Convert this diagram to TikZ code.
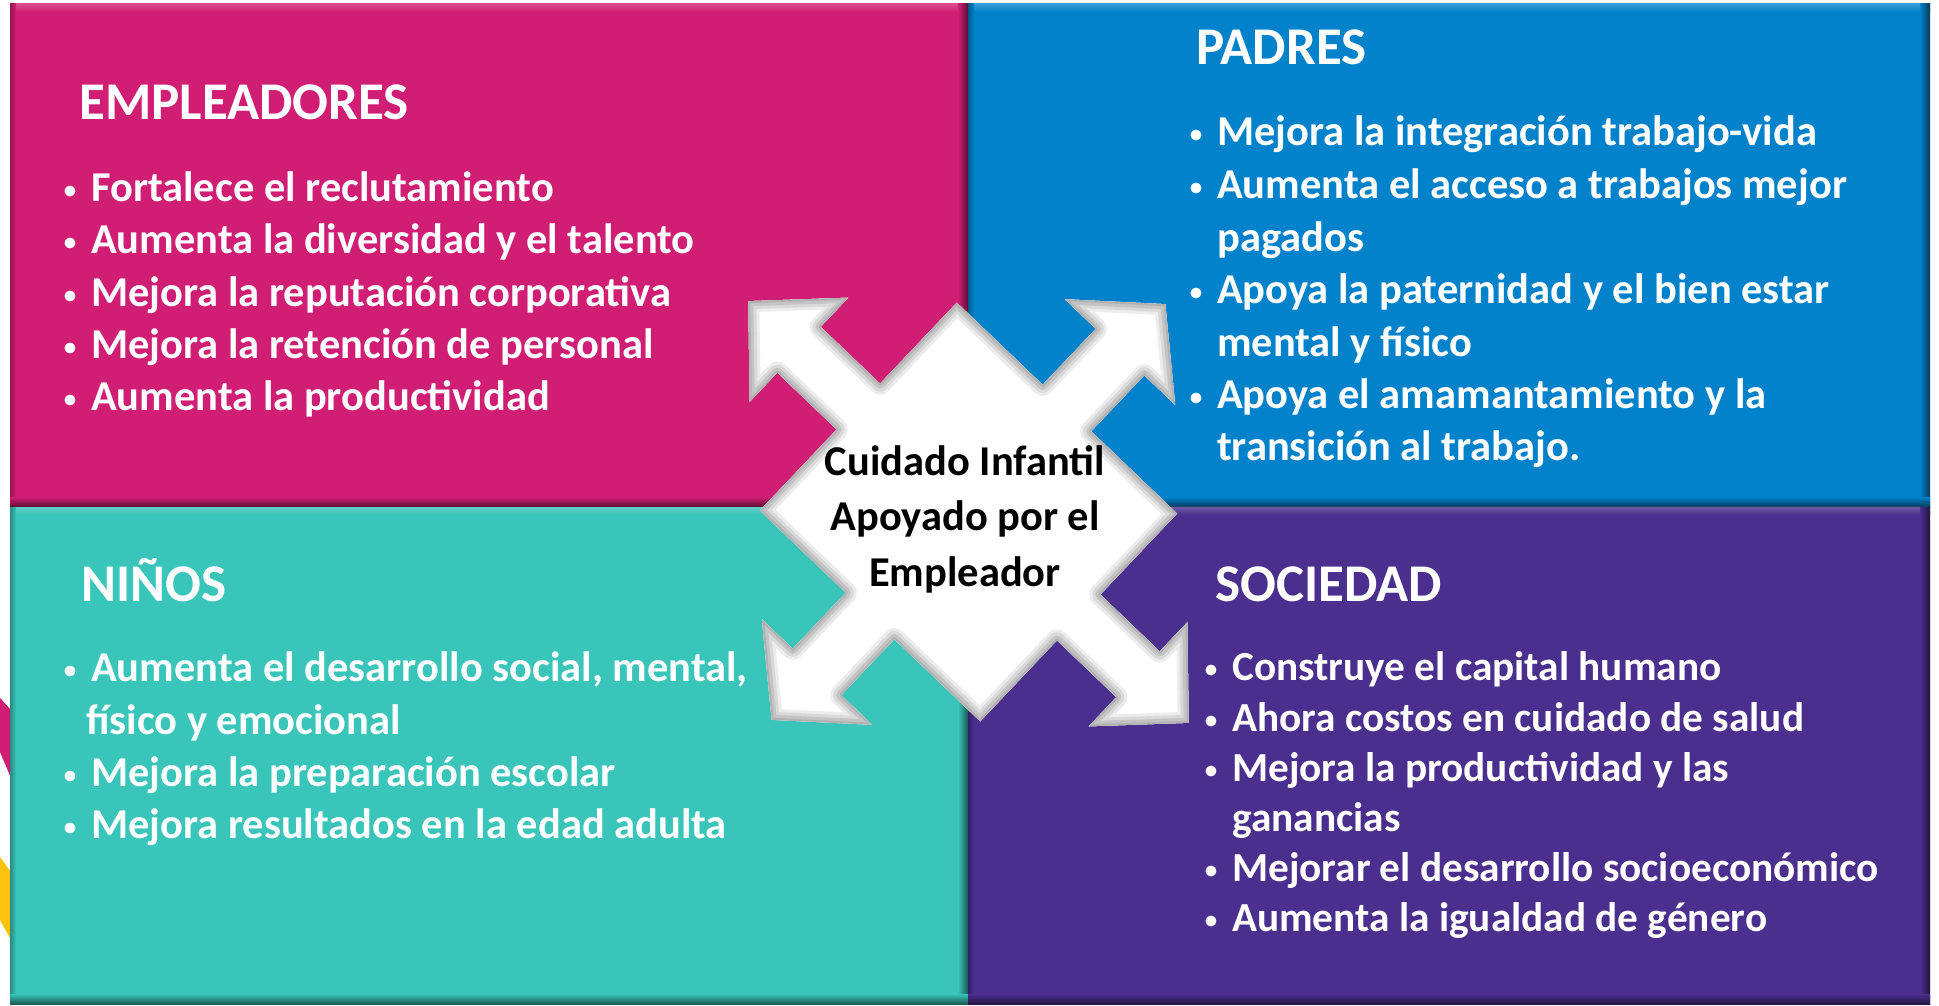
\documentclass[tikz,border=0pt]{standalone}
\usepackage{fontspec}
\setmainfont{Carlito}
\definecolor{pinkc}{RGB}{208,30,116}
\definecolor{bluec}{RGB}{2,130,202}
\definecolor{tealc}{RGB}{57,197,185}
\definecolor{purplec}{RGB}{74,47,142}
\definecolor{yellowc}{RGB}{255,194,14}
\newcommand\bul{\makebox[0pt][c]{\raisebox{3pt}{\fontsize{25}{25}\selectfont •}}\hspace{21pt}}
\newcommand\qpanel[5]{%
  \fill[#5] (#1,#2) rectangle (#3,#4);
  \shade[top color=#5!80!white, bottom color=#5] (#1,#2) rectangle (#3,{#2+8});
  \shade[left color=#5!70!black, right color=#5] (#1,#2) rectangle ({#1+6},#4);
  \shade[left color=#5, right color=#5!45!black] ({#3-10},#2) rectangle (#3,#4);
  \shade[top color=#5, bottom color=#5!45!black] (#1,{#4-10}) rectangle (#3,#4);
}
\begin{document}
\begin{tikzpicture}[x=1pt,y=-1pt,
  head/.style={font=\fontsize{53}{60}\selectfont\bfseries, text=white, anchor=base west, inner sep=0pt},
  item/.style={font=\fontsize{42.5}{52}\selectfont\bfseries, text=white, anchor=base west, inner sep=0pt},
  itemsm/.style={font=\fontsize{41.3}{50}\selectfont\bfseries, text=white, anchor=base west, inner sep=0pt},
  ctr/.style={font=\fontsize{42.5}{52}\selectfont\bfseries, text=black, anchor=base, inner sep=0pt},
  crossp/.style={insert path={(0.5,-0.11) -- (0.77,-0.11) -- (0.77,-0.25) -- (1,0) -- (0.77,0.25) -- (0.77,0.11) -- (0.5,0.11) -- (0.5,0.5)
    -- (0.11,0.5) -- (0.11,0.77) -- (0.25,0.77) -- (0,1) -- (-0.25,0.77) -- (-0.11,0.77) -- (-0.11,0.5) -- (-0.5,0.5)
    -- (-0.5,0.11) -- (-0.77,0.11) -- (-0.77,0.25) -- (-1,0) -- (-0.77,-0.25) -- (-0.77,-0.11) -- (-0.5,-0.11) -- (-0.5,-0.5)
    -- (-0.11,-0.5) -- (-0.11,-0.77) -- (-0.25,-0.77) -- (0,-1) -- (0.25,-0.77) -- (0.11,-0.77) -- (0.11,-0.5) -- (0.5,-0.5) -- cycle}}]
\fill[white] (0,0) rectangle (1939,1006);
\useasboundingbox (0,0) rectangle (1939,1006);
% side stripes
\fill[pinkc] (0,698) -- (11,710) -- (11,778) -- (0,752) -- cycle;
\fill[yellowc] (0,857) -- (11,872) -- (11,940) -- (0,920) -- cycle;
% panels
\qpanel{10}{4}{968}{507}{pinkc}
\qpanel{968}{4}{1930}{507}{bluec}
\qpanel{10}{507}{968}{1004}{tealc}
\qpanel{968}{507}{1930}{1004}{purplec}
% central cross of arrows
\begin{scope}[shift={(968.5pt,-512pt)}, x={(196.8pt,207.8pt)}, y={(-220.2pt,210.8pt)}]
  \fill[white, crossp];
  \begin{scope}
    \clip[crossp];
    \draw[crossp, line width=22pt, gray!15, line join=round];
    \draw[crossp, line width=16pt, gray!30, line join=round];
    \draw[crossp, line width=10pt, gray!46, line join=round];
    \draw[crossp, line width=4pt, gray!60, line join=round];
  \end{scope}
\end{scope}
% EMPLEADORES
\node[head] (eh) at (79,120) {EMPLEADORES};
\node[item] (e1) at (70,201) {\bul Fortalece el reclutamiento};
\node[item] (e2) at (70,253) {\bul Aumenta la diversidad y el talento};
\node[item] (e3) at (70,306) {\bul Mejora la reputación corporativa};
\node[item] (e4) at (70,358) {\bul Mejora la retención de personal};
\node[item] (e5) at (70,410) {\bul Aumenta la productividad};
% PADRES
\node[head] (ph) at (1196,65) {PADRES};
\node[item] (p1) at (1196,146) {\bul Mejora la integración trabajo-vida};
\node[item] (p2) at (1196,198) {\bul Aumenta el acceso a trabajos mejor};
\node[item] (p2b) at (1217,251) {pagados};
\node[item] (p3) at (1196,303) {\bul Apoya la paternidad y el bien estar};
\node[item] (p3b) at (1217,356) {mental y físico};
\node[item] (p4) at (1196,408) {\bul Apoya el amamantamiento y la};
\node[item] (p4b) at (1217,460) {transición al trabajo.};
% NIÑOS
\node[head] (nh) at (81,601) {NIÑOS};
\node[item] (n1) at (70,681) {\bul Aumenta el desarrollo social, mental,};
\node[item] (n1b) at (86,734) {físico y emocional};
\node[item] (n2) at (70,786) {\bul Mejora la preparación escolar};
\node[item] (n3) at (70,838) {\bul Mejora resultados en la edad adulta};
% SOCIEDAD
\node[head] (sh) at (1215,601) {SOCIEDAD};
\node[itemsm] (s1) at (1211,680) {\bul Construye el capital humano};
\node[itemsm] (s2) at (1211,731) {\bul Ahora costos en cuidado de salud};
\node[itemsm] (s3) at (1211,781) {\bul Mejora la productividad y las};
\node[itemsm] (s3b) at (1232,831) {ganancias};
\node[itemsm] (s4) at (1211,881) {\bul Mejorar el desarrollo socioeconómico};
\node[itemsm] (s5) at (1211,931) {\bul Aumenta la igualdad de género};
% centre text
\node[ctr] (c1) at (965,475) {Cuidado Infantil};
\node[ctr] (c2) at (965,530) {Apoyado por el};
\node[ctr] (c3) at (965,586) {Empleador};
\end{tikzpicture}
\end{document}
